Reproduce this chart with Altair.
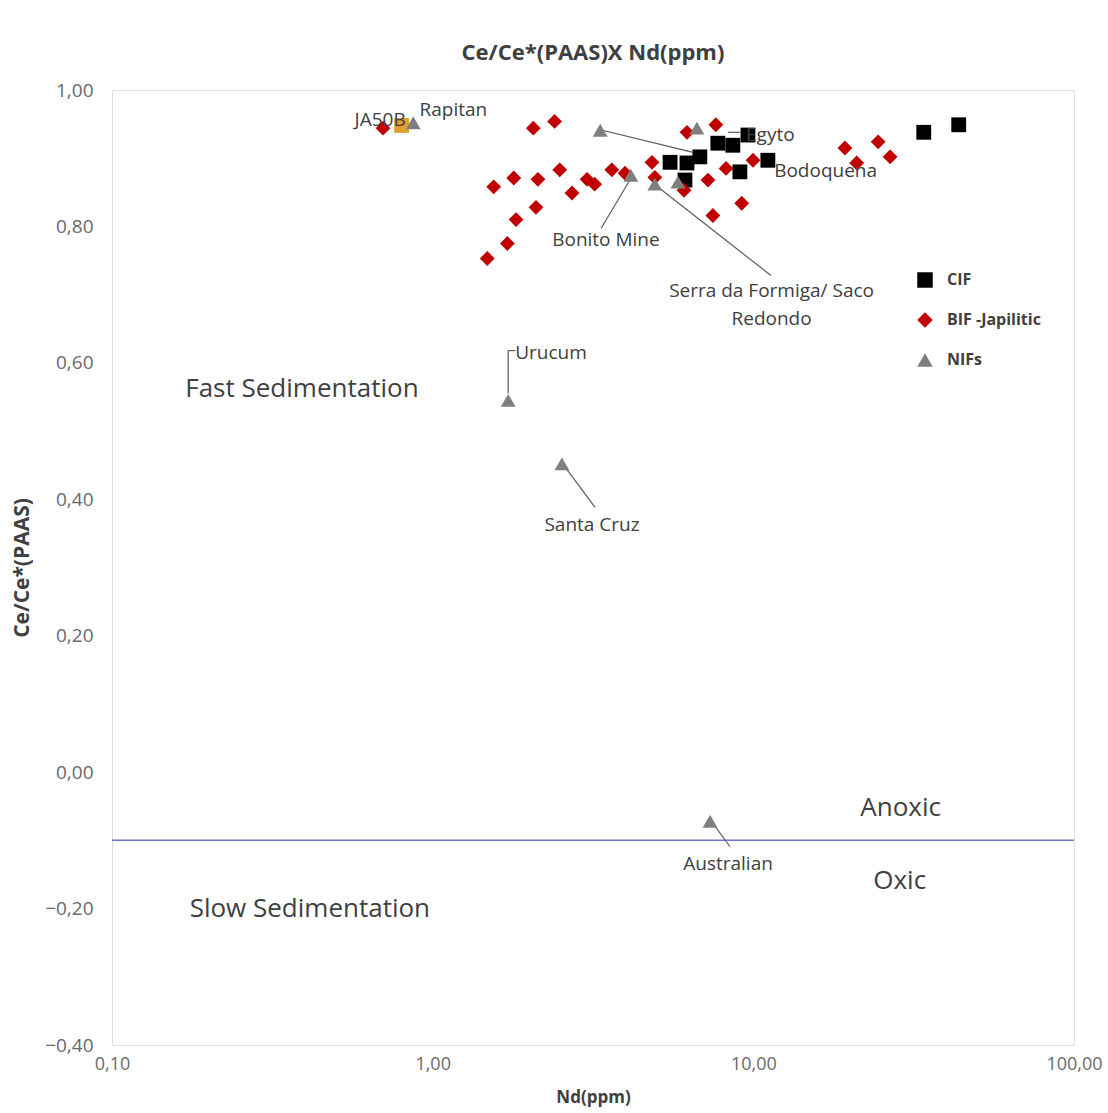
import altair as alt
import pandas as pd

# CIF samples: Nd (ppm) and Ce/Ce*(PAAS)
cif_nd = [5.50, 6.21, 6.81, 7.75, 8.63, 9.62, 9.08, 11.1, 6.12, 34.0, 43.7]
cif_ce = [0.894, 0.893, 0.902, 0.922, 0.919, 0.934, 0.880, 0.897, 0.868, 0.938, 0.949]

# BIF - Japilitic samples
bif_nd = [0.70, 2.06, 2.40, 1.55, 1.79, 2.13, 2.49, 2.72, 3.03, 3.20, 3.62, 3.98,
          2.10, 1.82, 1.71, 1.48, 6.21, 7.64, 4.83, 4.93, 6.08, 7.22, 8.22, 9.98,
          7.48, 9.20, 19.3, 24.5, 26.7, 21.0]
bif_ce = [0.944, 0.944, 0.954, 0.858, 0.871, 0.869, 0.883, 0.849, 0.869, 0.862, 0.883, 0.878,
          0.828, 0.810, 0.775, 0.753, 0.938, 0.949, 0.894, 0.872, 0.853, 0.868, 0.885, 0.897,
          0.816, 0.834, 0.915, 0.924, 0.902, 0.893]

# NIFs (Neoproterozoic iron formations)
nif_nd = [0.87, 3.33, 4.15, 4.93, 5.82, 6.67, 1.72, 2.53, 7.33]
nif_ce = [0.952, 0.941, 0.875, 0.862, 0.865, 0.944, 0.545, 0.452, -0.072]

# Sample JA50B
ja_nd = [0.80]
ja_ce = [0.948]

series_names = ["CIF", "BIF -Japilitic", "NIFs"]
series_colors = ["#000000", "#c00000", "#7f7f7f"]
series_shapes = ["square", "diamond", "triangle-up"]

# Locality labels
site_labels = ["JA50B", "Rapitan", "Egyto", "Bodoquena", "Bonito Mine",
               "Serra da Formiga/ Saco", "Redondo", "Urucum", "Santa Cruz", "Australian"]
site_x = [0.686, 1.16, 11.3, 16.8, 3.47, 11.4, 11.4, 2.34, 3.14, 8.34]
site_y = [0.956, 0.971, 0.934, 0.881, 0.780, 0.706, 0.665, 0.615, 0.363, -0.135]

# Field labels
field_labels = ["Fast Sedimentation", "Slow Sedimentation", "Anoxic", "Oxic"]
field_x = [0.391, 0.414, 28.8, 28.6]
field_y = [0.561, -0.200, -0.053, -0.160]

# Leader lines from labels to samples
lead_x = [2.61, 1.72, 1.72, 4.12, 4.97, 3.38, 8.34, 7.48]
lead_x2 = [3.21, 1.72, 1.81, 3.35, 11.35, 6.44, 9.08, 8.45]
lead_y = [0.445, 0.555, 0.618, 0.868, 0.860, 0.941, 0.938, -0.075]
lead_y2 = [0.388, 0.618, 0.618, 0.797, 0.728, 0.909, 0.938, -0.109]

# Anoxic / oxic boundary
boundary_ce = [-0.10]

FONT = "Open Sans"
TEXT = "#404040"

points = pd.DataFrame({
    "nd": cif_nd + bif_nd + nif_nd,
    "ce": cif_ce + bif_ce + nif_ce,
    "series": ["CIF"] * len(cif_nd) + ["BIF -Japilitic"] * len(bif_nd) + ["NIFs"] * len(nif_nd),
})

x_scale = alt.Scale(type="log", domain=[0.1, 100], nice=False)
y_scale = alt.Scale(domain=[-0.4, 1.0], nice=False, zero=False)
comma_fmt = "replace(format(datum.value, '.2f'), '.', ',')"

x_axis = alt.Axis(values=[0.1, 1, 10, 100], labelExpr=comma_fmt, title="Nd(ppm)",
                  grid=False, domain=False, ticks=False, labelPadding=10, labelFlush=False,
                  labelOverlap=False, labelFont=FONT, labelFontSize=18, labelColor="#6a6a6a",
                  titleFont=FONT, titleFontSize=17, titleFontWeight="bold",
                  titleColor=TEXT, titlePadding=16)
y_axis = alt.Axis(values=[-0.4, -0.2, 0.0, 0.2, 0.4, 0.6, 0.8, 1.0], labelExpr=comma_fmt,
                  title="Ce/Ce*(PAAS)", grid=False, domain=False, ticks=False,
                  labelPadding=19, labelFlush=False, labelOverlap=False,
                  labelFont=FONT, labelFontSize=19, labelColor="#6a6a6a",
                  titleFont=FONT, titleFontSize=21, titleFontWeight="bold",
                  titleColor=TEXT, titlePadding=12)

boundary = alt.Chart(pd.DataFrame({"ce": boundary_ce})).mark_rule(
    color="#6f74c8", strokeWidth=1.5
).encode(y=alt.Y("ce:Q", scale=y_scale, axis=y_axis))

leaders = alt.Chart(pd.DataFrame({"x": lead_x, "x2": lead_x2, "y": lead_y, "y2": lead_y2})).mark_rule(
    color="#595959", strokeWidth=1.2
).encode(
    x=alt.X("x:Q", scale=x_scale, axis=x_axis),
    x2="x2:Q",
    y=alt.Y("y:Q", scale=y_scale),
    y2="y2:Q",
)

ja = alt.Chart(pd.DataFrame({"nd": ja_nd, "ce": ja_ce})).mark_point(
    shape="square", filled=True, size=220, color="#e0a030", opacity=1
).encode(x=alt.X("nd:Q", scale=x_scale), y=alt.Y("ce:Q", scale=y_scale))

legend = alt.Legend(title=None, orient="none", legendX=805, legendY=182, padding=0,
                    symbolSize=240, rowPadding=24, labelOffset=14,
                    labelFont=FONT, labelFontSize=16, labelFontWeight="bold",
                    labelColor=TEXT, symbolStrokeWidth=0)

pts = alt.Chart(points).mark_point(filled=True, size=220, opacity=1).encode(
    x=alt.X("nd:Q", scale=x_scale),
    y=alt.Y("ce:Q", scale=y_scale),
    color=alt.Color("series:N", scale=alt.Scale(domain=series_names, range=series_colors),
                    legend=legend),
    shape=alt.Shape("series:N", scale=alt.Scale(domain=series_names, range=series_shapes),
                    legend=legend),
)

sites = alt.Chart(pd.DataFrame({"label": site_labels, "x": site_x, "y": site_y})).mark_text(
    font=FONT, fontSize=19, color=TEXT, align="center", baseline="middle"
).encode(x=alt.X("x:Q", scale=x_scale), y=alt.Y("y:Q", scale=y_scale), text="label:N")

fields = alt.Chart(pd.DataFrame({"label": field_labels, "x": field_x, "y": field_y})).mark_text(
    font=FONT, fontSize=26, color=TEXT, align="center", baseline="middle"
).encode(x=alt.X("x:Q", scale=x_scale), y=alt.Y("y:Q", scale=y_scale), text="label:N")

chart = alt.layer(boundary, leaders, ja, pts, sites, fields).properties(
    width=962,
    height=955,
    title=alt.TitleParams("Ce/Ce*(PAAS)X Nd(ppm)", font=FONT, fontSize=22, fontWeight="bold",
                          color=TEXT, anchor="middle", offset=16),
    autosize=alt.AutoSizeParams(type="none"),
    padding={"left": 112, "top": 90, "right": 34, "bottom": 68},
).configure_view(
    stroke="#8c8c8c", strokeWidth=2
).configure(background="white")

chart.save("out.html", embed_options={"renderer": "svg", "actions": False})
